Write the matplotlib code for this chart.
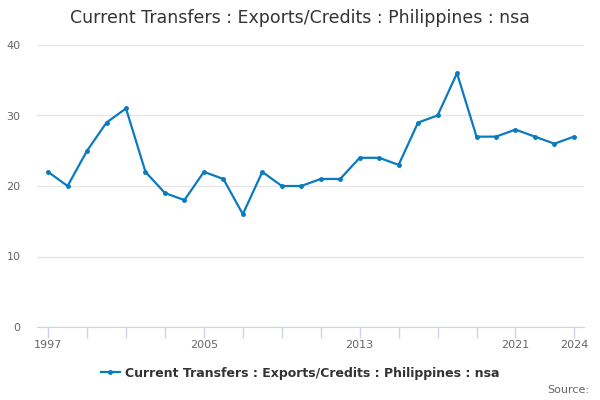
import matplotlib.pyplot as plt

years = list(range(1997, 2025))
values = [22, 20, 25, 29, 31, 22, 19, 18, 22, 21, 16, 22, 20, 20, 21, 21,
          24, 24, 23, 29, 30, 36, 27, 27, 28, 27, 26, 27]
tick_years = list(range(1997, 2022, 2)) + [2024]
label_years = [1997, 2005, 2013, 2021, 2024]
yticks = [0, 10, 20, 30, 40]
title = "Current Transfers : Exports/Credits : Philippines : nsa"

fig = plt.figure(figsize=(6, 4), dpi=100)
ax = fig.add_axes([0.062, 0.1825, 0.911, 0.705])

line, = ax.plot(years, values, color="#0a7bc1", linewidth=1.6,
                marker="o", markersize=2.5, label=title)

ax.set_xlim(1996.44, 2024.51)
ax.set_ylim(0, 40)
ax.set_yticks(yticks)
ax.set_yticklabels([str(v) for v in yticks])
ax.set_xticks(tick_years)
ax.set_xticklabels([str(y) if y in label_years else "" for y in tick_years])

ax.grid(axis="y", color="#e6e6e6", linewidth=0.9)
ax.set_axisbelow(True)
for s in ["top", "right", "left"]:
    ax.spines[s].set_visible(False)
ax.spines["bottom"].set_color("#ccd6eb")
ax.tick_params(axis="x", colors="#ccd6eb", length=8, width=1, labelcolor="#666666",
               labelsize=8, pad=1)
ax.tick_params(axis="y", length=0, labelcolor="#666666", labelsize=8, pad=12)

fig.text(0.5, 0.955, title, ha="center", va="center", fontsize=12.5, color="#333333")
fig.legend(handles=[line], loc="center", bbox_to_anchor=(0.5, 0.067), frameon=False,
           prop={"size": 9, "weight": "bold"}, labelcolor="#333333",
           handlelength=1.5, handletextpad=0.4)
fig.text(0.982, 0.025, "Source:", ha="right", va="center", fontsize=8, color="#666666")

fig.savefig("out.png", dpi=100)
